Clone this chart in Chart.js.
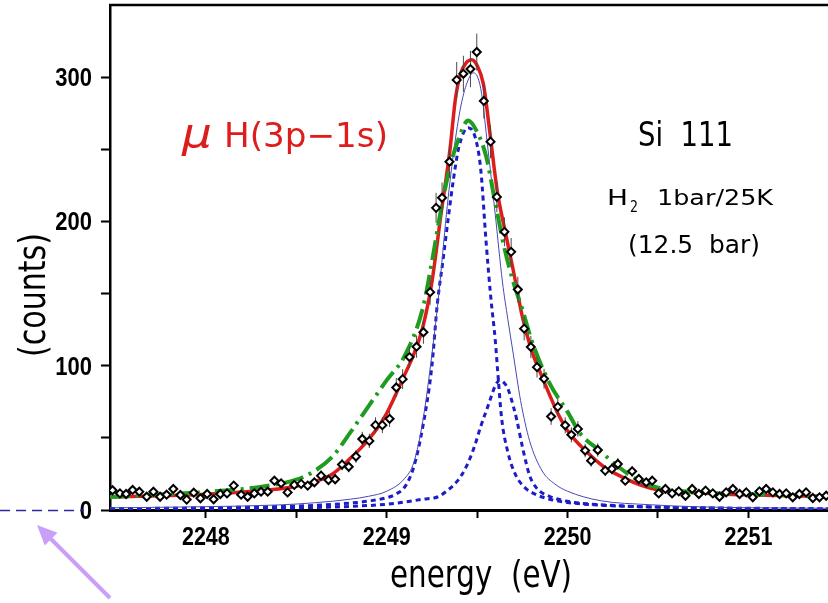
<!DOCTYPE html>
<html lang="en">

<head>
  <meta charset="UTF-8">
  <title>muH(3p-1s) Si 111</title>
  <style>
    html,
    body {
      margin: 0;
      padding: 0;
      background: #fff;
      overflow: hidden;
    }

    #spectrum {
      display: block;
    }
  </style>
</head>

<body>
  <canvas id="spectrum" width="828" height="603"></canvas>

  <script src="https://cdn.jsdelivr.net/npm/chart.js@4.4.1/dist/chart.umd.min.js"></script>
  <script>
    // 측정 데이터 (energy eV / counts / 오차)
    const dataE = [
      2247.484, 2247.525, 2247.559, 2247.595, 2247.632, 2247.673, 2247.710, 2247.747, 2247.783, 2247.820,
      2247.859, 2247.894, 2247.933, 2247.970, 2248.007, 2248.043, 2248.080, 2248.117, 2248.154, 2248.195,
      2248.231, 2248.268, 2248.305, 2248.342, 2248.379, 2248.416, 2248.452, 2248.489, 2248.527, 2248.563,
      2248.600, 2248.637, 2248.678, 2248.715, 2248.753, 2248.790, 2248.830, 2248.865, 2248.904, 2248.938,
      2248.976, 2249.016, 2249.053, 2249.088, 2249.126, 2249.165, 2249.203, 2249.240, 2249.273, 2249.306,
      2249.347, 2249.387, 2249.424, 2249.463, 2249.498, 2249.537, 2249.574, 2249.609, 2249.651, 2249.688,
      2249.725, 2249.760, 2249.797, 2249.831, 2249.870, 2249.909, 2249.946, 2249.987, 2250.021, 2250.057,
      2250.097, 2250.130, 2250.167, 2250.208, 2250.245, 2250.278, 2250.319, 2250.357, 2250.394, 2250.435,
      2250.468, 2250.504, 2250.541, 2250.578, 2250.615, 2250.652, 2250.689, 2250.726, 2250.763, 2250.803,
      2250.840, 2250.877, 2250.914, 2250.951, 2250.988, 2251.024, 2251.061, 2251.098, 2251.135, 2251.172,
      2251.209, 2251.245, 2251.282, 2251.319, 2251.356, 2251.393, 2251.430
    ];
    const dataCounts = [
      13.7, 11.5, 11.1, 13.9, 12.7, 9.2, 12.7, 9.2, 10.6, 14.6,
      10.4, 7.2, 12.0, 8.1, 11.1, 7.4, 11.1, 11.5, 16.9, 10.6,
      9.2, 11.5, 12.7, 12.7, 20.3, 18.5, 12.2, 17.4, 18.1, 16.9,
      19.2, 23.8, 20.8, 21.3, 31.5, 30.0, 37.1, 49.2, 47.9, 58.8,
      58.8, 63.2, 84.9, 90.7, 106, 113.2, 123.2, 151, 209.4, 216.4,
      241.4, 298.1, 302.3, 305.6, 317.4, 283.5, 255.3, 217, 192.8, 178.9,
      152.8, 125.7, 113, 99, 91, 64.8, 71.5, 58.7, 52.1, 56.2,
      41.2, 34.2, 41.6, 27.3, 28.5, 31.9, 20.3, 26.8, 21.5, 19.2,
      20.3, 11.5, 14.6, 11.5, 12.9, 9.9, 14.6, 11.1, 13.4, 11.5,
      9.2, 12.2, 14.6, 11.1, 12.2, 8.8, 12.9, 14.6, 12.2, 11.1,
      11.5, 8.8, 11.1, 12.2, 8.3, 8.8, 9.9
    ];
    const dataErr = [
      2.7, 2.4, 2.4, 2.7, 2.6, 2.2, 2.6, 2.2, 2.3, 2.8,
      2.3, 1.9, 2.5, 2.0, 2.4, 2.0, 2.4, 2.4, 3.0, 2.3,
      2.2, 2.4, 2.6, 2.6, 3.2, 3.1, 2.5, 3.0, 3.1, 3.0,
      3.2, 3.5, 3.3, 3.3, 4.0, 3.9, 4.4, 5.0, 5.0, 5.5,
      5.5, 5.7, 6.6, 6.9, 7.4, 7.7, 8.0, 8.8, 10.4, 10.6,
      11.2, 12.4, 12.5, 12.6, 12.8, 12.1, 11.5, 10.6, 10.0, 9.6,
      8.9, 8.1, 7.7, 7.2, 6.9, 5.8, 6.1, 5.5, 5.2, 5.4,
      4.6, 4.2, 4.6, 3.8, 3.8, 4.1, 3.2, 3.7, 3.3, 3.2,
      3.2, 2.4, 2.8, 2.4, 2.6, 2.3, 2.8, 2.4, 2.6, 2.4,
      2.2, 2.5, 2.8, 2.4, 2.5, 2.1, 2.6, 2.8, 2.5, 2.4,
      2.4, 2.1, 2.4, 2.5, 2.1, 2.1, 2.3
    ];

    // fit 곡선 (빨강: 전체 fit)
    const redE = [
      2247.47, 2247.8, 2248.0, 2248.2, 2248.4, 2248.5, 2248.6, 2248.7, 2248.75, 2248.8,
      2248.85, 2248.9, 2248.95, 2249.0, 2249.05, 2249.1, 2249.15, 2249.2, 2249.25, 2249.3,
      2249.35, 2249.38, 2249.41, 2249.44, 2249.47, 2249.5, 2249.535, 2249.57, 2249.61, 2249.65,
      2249.7, 2249.75, 2249.8, 2249.85, 2249.9, 2249.95, 2250.0, 2250.1, 2250.2, 2250.3,
      2250.4, 2250.5, 2250.7, 2251.0, 2251.44
    ];
    const redY = [
      9, 10, 11, 12.5, 14.5, 16.5, 19.5, 25, 30, 36,
      42, 49, 57, 67, 80, 94, 108, 127, 158, 205,
      250, 285, 303, 310, 312, 308, 295, 262, 222, 196,
      166, 134, 111, 95, 80, 66, 55, 41, 30, 23,
      17.5, 14, 12, 10.5, 9.5
    ];

    // 초록 일점쇄선
    const greenE = [
      2247.47, 2247.7, 2248.0, 2248.3, 2248.5, 2248.6, 2248.7, 2248.8, 2248.9, 2249.0,
      2249.1, 2249.2, 2249.25, 2249.3, 2249.35, 2249.4, 2249.45, 2249.5, 2249.55, 2249.6,
      2249.65, 2249.7, 2249.75, 2249.8, 2249.9, 2250.0, 2250.07, 2250.18, 2250.27, 2250.4,
      2250.5, 2250.73, 2251.0, 2251.25, 2251.44
    ];
    const greenY = [
      9, 10.5, 12.5, 16, 21, 27, 37, 54, 72, 90,
      107, 140, 172, 208, 238, 258, 270, 262, 245, 213,
      182, 158, 139, 118, 88, 68, 53, 41, 31, 20,
      15.5, 12.2, 11, 10, 9
    ];

    // 파랑 가는 실선 (두 성분의 합)
    const thinE = [
      2247.47, 2248.0, 2248.4, 2248.6, 2248.8, 2248.9, 2249.0, 2249.1, 2249.15, 2249.2,
      2249.25, 2249.29, 2249.33, 2249.37, 2249.41, 2249.45, 2249.48, 2249.52, 2249.56, 2249.6,
      2249.64, 2249.67, 2249.7, 2249.74, 2249.79, 2249.86, 2249.93, 2250.0, 2250.18, 2250.45,
      2250.73, 2251.0, 2251.44
    ];
    const thinY = [
      1.5, 2.3, 3.5, 5, 7.5, 9.5, 13, 22, 33, 62,
      108, 152, 205, 248, 280, 298, 303, 292, 250, 205,
      158, 132, 108, 76, 48, 27, 18, 13, 6.5, 3.7,
      2.2, 1.6, 1.2
    ];

    // 파랑 점선 - 큰 성분
    const bigE = [
      2247.47, 2247.8, 2248.0, 2248.2, 2248.4, 2248.6, 2248.8, 2248.9, 2249.0, 2249.05,
      2249.1, 2249.15, 2249.2, 2249.25, 2249.28, 2249.31, 2249.34, 2249.37, 2249.4, 2249.45,
      2249.49, 2249.52, 2249.55, 2249.575, 2249.6, 2249.615, 2249.635, 2249.67, 2249.71, 2249.76,
      2249.82, 2249.9, 2250.0, 2250.2, 2250.5, 2251.0, 2251.44
    ];
    const bigY = [
      1.0, 1.2, 1.5, 1.9, 2.4, 3.2, 4.8, 6.2, 8.5, 11,
      16, 30, 58, 100, 143, 172, 202, 230, 252, 265,
      258, 236, 185, 148, 118, 94, 64, 40, 25, 16,
      11, 7.5, 5.2, 3.2, 2.0, 1.2, 0.9
    ];

    // 파랑 점선 - 작은 성분
    const smallE = [
      2247.47, 2248.0, 2248.5, 2248.8, 2249.0, 2249.1, 2249.2, 2249.28, 2249.33, 2249.39,
      2249.44, 2249.485, 2249.52, 2249.56, 2249.6, 2249.625, 2249.65, 2249.67, 2249.7, 2249.72,
      2249.75, 2249.79, 2249.83, 2249.9, 2250.0, 2250.2, 2250.5, 2251.0, 2251.44
    ];
    const smallY = [
      0.5, 0.8, 1.5, 2.5, 4, 5.5, 7.5, 9, 13, 20,
      30, 44, 58, 72, 86, 90, 88, 84, 72, 62,
      44, 24, 15, 9.5, 6, 3.5, 2, 1, 0.7
    ];

    // 축 눈금
    const xTicks = [2248, 2248.5, 2249, 2249.5, 2250, 2250.5, 2251];
    const yTicks = [0, 50, 100, 150, 200, 250, 300];
    const xLabels = [2248, 2249, 2250, 2251];
    const yLabels = [0, 100, 200, 300];

    const RED = '#dd1c1c';
    const GREEN = '#1f9c1f';
    const BLUE = '#1c1cc8';
    const FONT = '"DejaVu Sans"';
    const TICK_FONT = 'bold 25px "Liberation Sans"';

    const toPts = (xs, ys) => xs.map((x, i) => ({ x: x, y: ys[i] }));

    // 글자 폭을 맞춰서 그리기 (가로 비율 조정)
    function drawText(ctx, str, x, y, font, color, width) {
      ctx.save();
      ctx.font = font;
      ctx.fillStyle = color;
      ctx.textBaseline = 'alphabetic';
      ctx.textAlign = 'left';
      const w = ctx.measureText(str).width;
      ctx.translate(x, y);
      ctx.scale(width / w, 1);
      ctx.fillText(str, 0, 0);
      ctx.restore();
    }

    // 눈금 숫자 (약간 좁은 굵은 글씨)
    function drawLabel(ctx, str, x, y, align, sx) {
      ctx.save();
      ctx.font = TICK_FONT;
      ctx.fillStyle = '#000';
      ctx.textBaseline = 'alphabetic';
      ctx.textAlign = align;
      ctx.translate(x, y);
      ctx.scale(sx, 1);
      ctx.fillText(str, 0, 0);
      ctx.restore();
    }

    // 오차 막대
    const errorBars = {
      id: 'errorBars',
      beforeDatasetDraw(chart, args) {
        if (args.index !== 0) return;
        const { ctx, scales: { x, y } } = chart;
        ctx.save();
        ctx.strokeStyle = '#4a4a4a';
        ctx.lineWidth = 1;
        dataE.forEach((e, i) => {
          const px = x.getPixelForValue(e);
          ctx.beginPath();
          ctx.moveTo(px, y.getPixelForValue(dataCounts[i] - dataErr[i]));
          ctx.lineTo(px, y.getPixelForValue(dataCounts[i] + dataErr[i]));
          ctx.stroke();
        });
        ctx.restore();
      }
    };

    // 위쪽 테두리, 눈금 숫자, 글자, 화살표
    const notes = {
      id: 'notes',
      afterDraw(chart) {
        const { ctx, chartArea: a, scales: { x, y } } = chart;

        ctx.save();
        ctx.strokeStyle = '#000';
        ctx.lineWidth = 2.5;
        ctx.beginPath();
        ctx.moveTo(a.left - 1, a.top);
        ctx.lineTo(a.right, a.top);
        ctx.stroke();
        ctx.restore();

        xLabels.forEach(v => drawLabel(ctx, String(v), x.getPixelForValue(v), 545, 'center', 0.86));
        yLabels.forEach(v => drawLabel(ctx, String(v), 92, y.getPixelForValue(v) + 9, 'right', 0.88));

        drawText(ctx, 'μ', 182, 147, 'italic 40px ' + FONT, RED, 30);
        drawText(ctx, 'H(3p\u22121s)', 224, 147, '34px ' + FONT, RED, 164);

        drawText(ctx, 'Si  111', 638, 146, '34px ' + FONT, '#000', 95);
        drawText(ctx, 'H', 607, 205, '22px ' + FONT, '#000', 21);
        drawText(ctx, '2', 630, 212, '15px ' + FONT, '#000', 8);
        drawText(ctx, '1bar/25K', 657, 205, '22px ' + FONT, '#000', 116);
        drawText(ctx, '(12.5  bar)', 628, 253, '24px ' + FONT, '#000', 132);

        drawText(ctx, 'energy  (eV)', 390, 587, '38px ' + FONT, '#000', 182);

        // y축 제목 (세로)
        ctx.save();
        ctx.translate(45, 357);
        ctx.rotate(-Math.PI / 2);
        drawText(ctx, '(counts)', 0, 0, '38px ' + FONT, '#000', 124);
        ctx.restore();

        // 왼쪽 기준 점선
        ctx.save();
        ctx.strokeStyle = '#2b2ba0';
        ctx.lineWidth = 1.5;
        ctx.setLineDash([10, 6]);
        ctx.beginPath();
        ctx.moveTo(0, 510.5);
        ctx.lineTo(84, 510.5);
        ctx.stroke();
        ctx.restore();

        // 화살표
        ctx.save();
        ctx.strokeStyle = '#c8a0f8';
        ctx.fillStyle = '#c8a0f8';
        ctx.lineWidth = 4;
        ctx.beginPath();
        ctx.moveTo(110, 598);
        ctx.lineTo(48, 536);
        ctx.stroke();
        const ang = Math.atan2(525 - 598, 37 - 110);
        ctx.translate(37, 525);
        ctx.rotate(ang);
        ctx.beginPath();
        ctx.moveTo(0, 0);
        ctx.lineTo(-20, -9);
        ctx.lineTo(-20, 9);
        ctx.closePath();
        ctx.fill();
        ctx.restore();
      }
    };

    const lineStyle = {
      pointRadius: 0,
      fill: false,
      cubicInterpolationMode: 'monotone'
    };

    const ctx = document.getElementById('spectrum');
    new Chart(ctx, {
      type: 'line',
      plugins: [errorBars, notes],
      data: {
        datasets: [
          {
            data: toPts(dataE, dataCounts),
            showLine: false,
            pointStyle: 'rectRot',
            pointRadius: 4,
            pointBorderWidth: 2,
            pointBorderColor: '#000',
            pointBackgroundColor: '#fff',
            order: 0
          },
          Object.assign({
            data: toPts(greenE, greenY),
            borderColor: GREEN,
            borderWidth: 4,
            borderDash: [20, 6, 3, 6],
            order: 1
          }, lineStyle),
          Object.assign({
            data: toPts(redE, redY),
            borderColor: RED,
            borderWidth: 3.5,
            order: 2
          }, lineStyle),
          Object.assign({
            data: toPts(thinE, thinY),
            borderColor: '#4848b4',
            borderWidth: 1,
            order: 3
          }, lineStyle),
          Object.assign({
            data: toPts(bigE, bigY),
            borderColor: BLUE,
            borderWidth: 3,
            borderDash: [5, 4],
            order: 4
          }, lineStyle),
          Object.assign({
            data: toPts(smallE, smallY),
            borderColor: BLUE,
            borderWidth: 3,
            borderDash: [5, 4],
            order: 5
          }, lineStyle)
        ]
      },
      options: {
        responsive: false,
        animation: false,
        devicePixelRatio: 1,
        events: [],
        layout: { autoPadding: false, padding: { top: 5, left: 0, right: 0, bottom: 0 } },
        plugins: {
          legend: { display: false },
          tooltip: { enabled: false }
        },
        scales: {
          x: {
            type: 'linear',
            min: 2247.47,
            max: 2251.44,
            afterBuildTicks: s => { s.ticks = xTicks.map(v => ({ value: v })); },
            afterFit: s => {
              s.height = 93;
              s.paddingLeft = 0;
              s.paddingRight = 0;
            },
            border: { display: true, color: '#000', width: 3 },
            grid: {
              display: true,
              drawOnChartArea: false,
              drawTicks: true,
              tickLength: 8,
              tickWidth: 2,
              tickColor: '#000'
            },
            ticks: {
              autoSkip: false,
              maxRotation: 0,
              color: 'rgba(0,0,0,0)',
              callback: () => ''
            }
          },
          y: {
            type: 'linear',
            min: 0,
            max: 350,
            afterBuildTicks: s => { s.ticks = yTicks.map(v => ({ value: v })); },
            afterFit: s => {
              s.width = 110;
              s.paddingTop = 0;
              s.paddingBottom = 0;
            },
            border: { display: true, color: '#000', width: 2.5 },
            grid: {
              display: true,
              drawOnChartArea: false,
              drawTicks: true,
              tickLength: 9,
              tickWidth: 2,
              tickColor: '#000'
            },
            ticks: {
              autoSkip: false,
              color: 'rgba(0,0,0,0)',
              callback: () => ''
            }
          }
        }
      }
    });
  </script>
</body>

</html>
